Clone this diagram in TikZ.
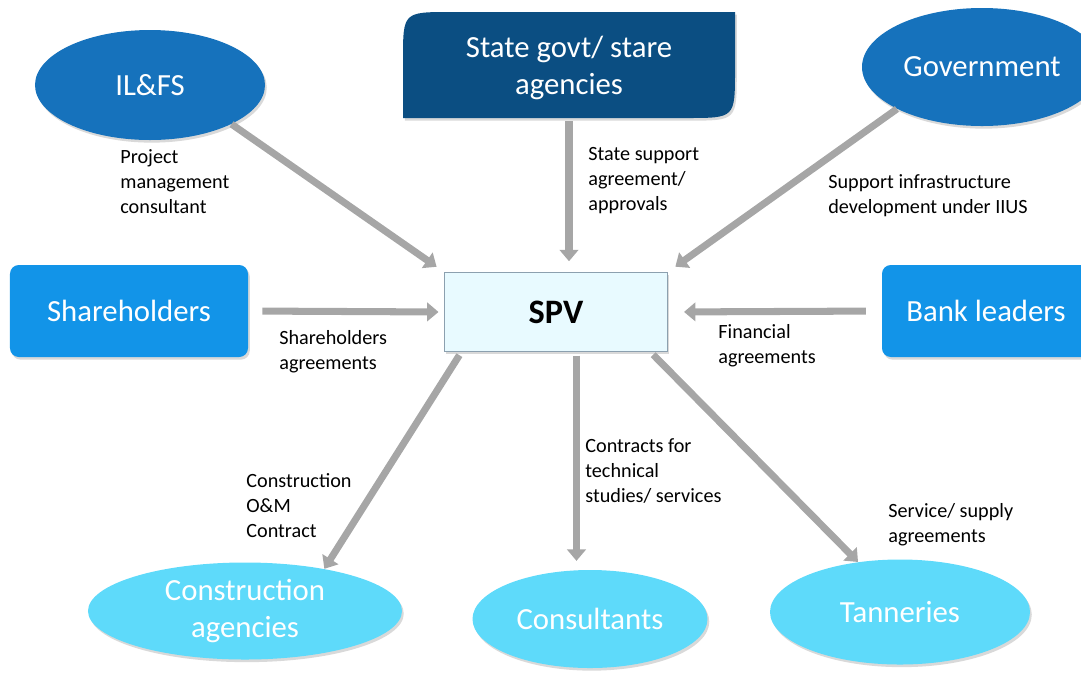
\documentclass[tikz,border=0pt]{standalone}
\usepackage{fontspec}
\setmainfont{Carlito}
\usetikzlibrary{arrows.meta,shapes.geometric,shadows}

\definecolor{midblue}{RGB}{22,114,188}
\definecolor{darkblue}{RGB}{11,78,130}
\definecolor{brightblue}{RGB}{18,148,232}
\definecolor{skyblue}{RGB}{94,218,250}
\definecolor{spvfill}{RGB}{232,250,255}
\definecolor{spvedge}{RGB}{140,160,175}
\definecolor{arrowgrey}{RGB}{166,166,166}

\begin{document}
\begin{tikzpicture}[x=0.2mm, y=-0.2mm,
    soft/.style={drop shadow={shadow xshift=1pt, shadow yshift=-1.5pt, opacity=0.25, fill=black!60}},
    party/.style={ellipse, inner sep=-4pt, text=white, align=center, font=\fontsize{17.5}{21.5}\selectfont, soft},
    block/.style={rounded corners=5pt, fill=brightblue, text=white, align=center, font=\fontsize{17.5}{21.5}\selectfont, inner sep=0pt, soft},
    note/.style={anchor=north west, align=left, inner sep=0pt, font=\fontsize{11.5}{14.2}\selectfont},
    arrow/.style={line width=4pt, draw=arrowgrey, -{Triangle[width=10.5pt,length=6.5pt]}}]
  \useasboundingbox (0,0) rectangle (1081,673);
  \clip (0,0) rectangle (1081,673);

  % top row
  \node[party, fill=midblue, minimum width=4.6cm, minimum height=2.2cm] (ilfs) at (150,85) {IL\&FS};
  \fill[darkblue, soft] (403,118) -- (403,60) .. controls (403,12) .. (451,12) -- (735,12)
    -- (735,70) .. controls (735,118) .. (687,118) -- cycle;
  \node[text=white, align=center, font=\fontsize{17.5}{21.5}\selectfont, minimum width=6.64cm, minimum height=2.12cm] (state) at (569,68) {State govt/ stare\\agencies};
  \node[party, fill=midblue, minimum width=4.8cm, minimum height=2.36cm] (govt) at (982,67) {Government};

  % middle row
  \node[block, minimum width=4.76cm, minimum height=1.84cm] (share) at (129,311) {Shareholders};
  \node[draw=spvedge, line width=0.8pt, fill=spvfill, minimum width=4.46cm, minimum height=1.58cm, font=\fontsize{19.5}{22}\selectfont\bfseries, soft] (spv) at (556,312) {SPV};
  \node[block, minimum width=4.16cm, minimum height=1.84cm] (bank) at (986,311) {Bank leaders};

  % bottom row
  \node[party, fill=skyblue, minimum width=6.28cm, minimum height=1.94cm] (constr) at (245,611) {Construction\\agencies};
  \node[party, fill=skyblue, minimum width=4.7cm, minimum height=1.96cm] (consult) at (590,619) {Consultants};
  \node[party, fill=skyblue, minimum width=5.2cm, minimum height=2.1cm] (tannery) at (900,612) {Tanneries};

  % agreements into the SPV
  \draw[arrow, shorten >=5pt] (ilfs.south east) -- (spv.north west);
  \draw[arrow, shorten >=6pt] (state.south) -- (state.south |- spv.north);
  \draw[arrow, shorten >=5pt] (govt.south west) -- (spv.north east);
  \draw[arrow, shorten <=8pt, shorten >=3pt] (share.east) -- (spv.west);
  \draw[arrow, shorten <=9pt, shorten >=9pt] (bank.west) -- (spv.east);

  % contracts out of the SPV
  \draw[arrow, shorten <=2pt] (spv.203) -- (constr.28);
  \draw[arrow, shorten <=2pt, shorten >=5pt] (spv.-63) -- (spv.-63 |- consult.north);
  \draw[arrow, shorten <=2pt] (spv.-23) -- (tannery.130);

  \node[note] (pmc) at (120,149) {Project\\management\\consultant};
  \node[note] (ssa) at (588,147) {State support\\agreement/\\approvals};
  \node[note] (sid) at (828,174) {Support infrastructure\\development under IIUS};
  \node[note] (sha) at (279,330) {Shareholders\\agreements};
  \node[note] (fin) at (718,324) {Financial\\agreements};
  \node[note] (com) at (246,473) {Construction\\O\&M\\Contract};
  \node[note] (cts) at (585,438) {Contracts for\\technical\\studies/ services};
  \node[note] (ssg) at (888,503) {Service/ supply\\agreements};
\end{tikzpicture}
\end{document}
